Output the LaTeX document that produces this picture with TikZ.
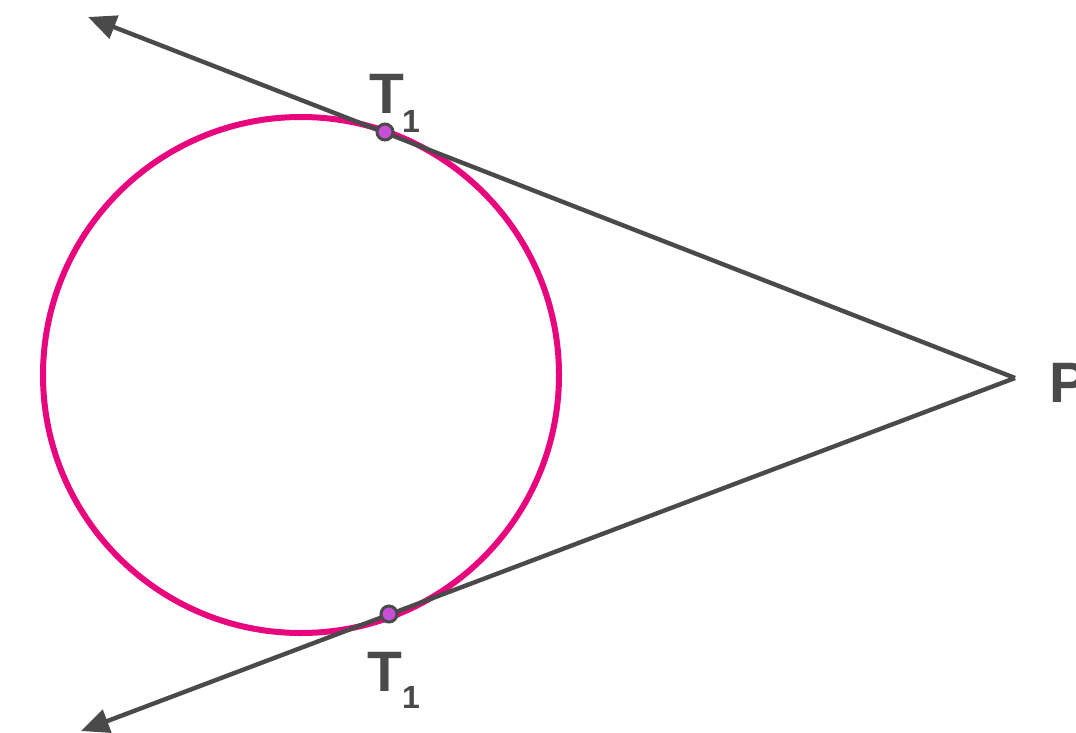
\documentclass[tikz,border=0pt]{standalone}
\usepackage{fontspec}
\setmainfont{Liberation Sans}
\usetikzlibrary{arrows.meta}
\definecolor{circpink}{HTML}{E8067E}
\definecolor{linegray}{HTML}{4A4A4A}
\definecolor{dotfill}{HTML}{C64FD6}
\tikzset{
  tline/.style={draw=linegray, line width=4.4pt, -{Triangle[length=28pt,width=24pt]}},
  tdot/.style={circle, draw=linegray, line width=3pt, fill=dotfill, minimum size=16pt, inner sep=0pt},
  biglab/.style={text=linegray, font=\bfseries\fontsize{57}{57}\selectfont, inner sep=0pt, anchor=base},
  sublab/.style={text=linegray, font=\bfseries\fontsize{32}{32}\selectfont, inner sep=0pt, anchor=base},
}
\begin{document}
\begin{tikzpicture}[x=1pt,y=-1pt]
\useasboundingbox (0,0) rectangle (1076,733);
\coordinate (O) at (301,375);
\coordinate (P) at (1015,378);
\coordinate (A) at (88,17);
\coordinate (B) at (81,731);
\draw[circpink, line width=6pt] (O) circle[radius=258];
\draw[tline] (P) -- (A);
\draw[tline] (P) -- (B);
\node[tdot] (t1) at (385,132) {};
\node[tdot] (t2) at (389,614) {};
\node[biglab] (lt1) at (387,114) {T};
\node[sublab] (st1) at (411,132) {1};
\node[biglab] (lt2) at (385,691) {T};
\node[sublab] (st2) at (411,708) {1};
\node[biglab, anchor=base west] (lp) at (1049,402) {P};
\end{tikzpicture}
\end{document}
